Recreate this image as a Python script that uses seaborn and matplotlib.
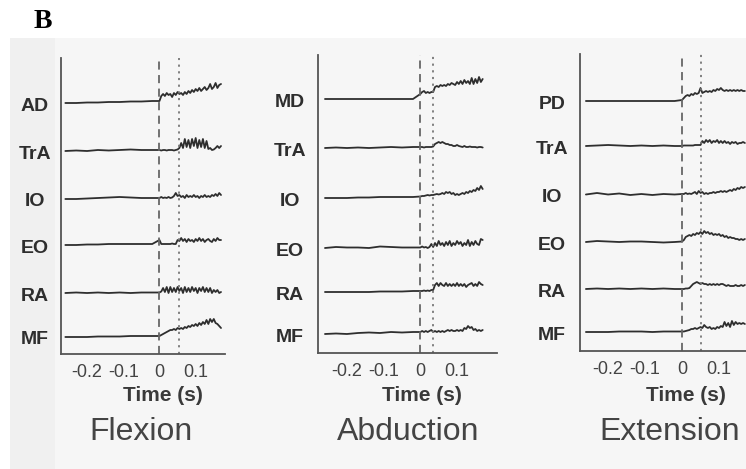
import numpy as np
import pandas as pd
import seaborn as sns
import matplotlib.pyplot as plt
from matplotlib.patches import Rectangle

# time axis (s): sparse before movement onset, dense after
t_pre = [-0.26, -0.23, -0.20, -0.17, -0.14, -0.11, -0.08, -0.05, -0.02]
t_post = [0.0, 0.005, 0.01, 0.015, 0.02, 0.025, 0.03, 0.035, 0.04, 0.045,
          0.05, 0.055, 0.06, 0.065, 0.07, 0.075, 0.08, 0.085, 0.09, 0.095,
          0.1, 0.105, 0.11, 0.115, 0.12, 0.125, 0.13, 0.135, 0.14, 0.145,
          0.15, 0.155, 0.16, 0.165, 0.17]
time_s = t_pre + t_post

# EMG traces (arbitrary units)
# Flexion
flex_muscles = ["AD", "TrA", "IO", "EO", "RA", "MF"]
flex_ad = [0, 0, 0.5, 0.5, 1, 1, 1.5, 1.5, 2,
           2, 7, 9, 7, 10, 8, 9, 6, 10, 8, 11, 9, 10, 8, 11, 9, 12, 10, 13, 11,
           14, 12, 15, 12, 14, 16, 13, 15, 19, 14, 16, 20, 15, 18, 19]
flex_tra = [0, 0.5, 0, 1, 0.5, 1, 1.5, 1, 1,
            1, 0.5, 1, 1, 0.5, 1, 1, 1, 0.5, 1, 1.5, 3, 8, 3, 12, 4, 11, 3, 12, 5,
            13, 3, 11, 4, 12, 3, 10, 2, 3, 1, 1.5, 3, 5, 3, 5]
flex_io = [0, 0, 0.5, 1, 1.5, 2, 1.5, 1, 1,
           1, 2, 1, 1.5, 1, 2, 1, 1.5, 3, 6, 3, 4, 2, 3, 1, 4, 2, 3, 2, 4,
           2, 3, 1, 3, 2, 4, 2, 3, 2, 4, 3, 5, 3, 6, 4]
flex_eo = [0, 0, 0.5, 0.5, 1, 1, 1, 1, 1,
           5, 1, 1, 1, 1, 1, 1, 1.5, 1, 1, 5, 4, 7, 4, 6, 3, 6, 4, 5, 3,
           6, 4, 7, 4, 6, 3, 5, 6, 4, 3, 6, 4, 7, 5, 5]
flex_ra = [0, 0.5, 0, 0.5, 0, 0.5, 0, 0.5, 0.5,
           0.5, 1.5, 5, 1, 6, 0, 6, 1, 5, 1, 6, 2, 5, 0, 6, 1, 5, 1, 6, 2,
           5, 0, 5, 2, 6, 1, 5, 1, 5, 0, 3, 1, 3, 0, 1]
flex_mf = [0, 0, 0, 0.5, 0.5, 0.5, 1, 1, 1,
           1, 2, 3, 4, 5, 6, 7, 7, 8, 7, 9, 8, 9, 8, 10, 9, 11, 10, 12, 11,
           13, 11, 14, 12, 15, 13, 17, 13, 18, 15, 18, 14, 13, 11, 9]

# Abduction
abd_muscles = ["MD", "TrA", "IO", "EO", "RA", "MF"]
abd_md = [0, 0, 0, 0, 0, 0, 0, 0, 0,
          5, 7, 8, 6, 7, 6, 7, 7, 12, 13, 12, 14, 13, 14, 13, 15, 14, 16, 15, 14,
          17, 15, 18, 15, 19, 16, 18, 15, 21, 15, 20, 16, 22, 17, 20]
abd_tra = [0, 0.5, 0, 0.5, 0, 0.5, 1, 0.5, 1,
           1, 1, 0.5, 1, 1, 1, 1, 1.5, 4, 5, 6, 5, 6, 5, 4, 4, 3, 3, 2, 2,
           3, 2, 1.5, 1, 2, 1, 1, 1.5, 1, 1, 1, 0.5, 1, 1, 0.5]
abd_io = [0, 0, 0, 0.5, 0.5, 1, 1, 1, 1,
          1.5, 2, 2, 2.5, 3, 2.5, 3, 3, 3.5, 4, 3.5, 4, 5, 4, 6, 5, 6, 4, 5, 3,
          4, 3, 4, 5, 4, 6, 5, 7, 6, 8, 7, 10, 8, 12, 9]
abd_eo = [0, 1, 0.5, 0.5, 0, 1.5, 1, 0.5, 0.5,
          0.5, 1.5, 0.5, 1, 0, 1, 4, 1, 5, 2, 7, 3, 5, 2, 6, 3, 7, 2, 5, 3,
          7, 4, 6, 2, 5, 3, 8, 2, 6, 3, 7, 4, 3, 9, 8]
abd_ra = [0, 0, 0, 0, 0, 0.5, 0.5, 0.5, 1,
          1, 1, 1.5, 1, 1.5, 1, 2, 2, 7, 9, 6, 9, 7, 6, 9, 6, 8, 6, 8, 6,
          9, 6, 8, 6, 8, 5, 7, 8, 9, 6, 8, 6, 10, 8, 7]
abd_mf = [0, 0.5, 0, 1, 1.5, 1, 2, 1.5, 2,
          2, 3, 2, 3, 2, 3, 4, 2, 3, 2, 3, 2, 3, 2, 3, 4, 3, 4, 3, 3,
          4, 3, 4, 3, 6, 5, 8, 6, 7, 4, 5, 3, 4, 3, 4]

# Extension
ext_muscles = ["PD", "TrA", "IO", "EO", "RA", "MF"]
ext_pd = [0, 0, 0, 0, 0, 0, 0, 0, 0,
          1, 3, 5, 6, 5, 7, 6, 8, 7, 8, 13, 8, 9, 10, 9, 10, 9, 11, 10, 12,
          11, 13, 11, 10, 11, 10, 11, 10, 11, 10, 11, 10, 11, 10, 10]
ext_tra = [0, 0.5, 1, 0.5, 0, 0.5, 0, 0.5, 0,
           0, 0.5, 0.5, 0.5, 0.5, 0.5, 0.5, 1, 1, 1, 1, 5, 3, 6, 4, 6, 3, 5, 4, 6,
           3, 5, 3, 5, 3, 4, 2, 4, 3, 4, 2, 3, 3, 4, 3]
ext_io = [0.5, 2, 0.5, 1.5, 0, 1, 0, 1, 0.5,
          1, 1, 2, 1, 1.5, 1, 2, 3, 1, 4, 2, 3, 1, 2, 1, 2, 2, 3, 2, 3,
          3, 4, 3, 4, 3, 4, 5, 4, 6, 5, 7, 6, 8, 7, 8]
ext_eo = [0, 1, 0.5, 0, 0.5, 0.5, 0, -0.5, 0,
          0.5, 2, 5, 6, 7, 6, 8, 7, 9, 8, 10, 8, 11, 9, 10, 8, 9, 7, 8, 7,
          8, 6, 7, 5, 6, 4, 5, 4, 4, 3, 3, 2, 3, 2, 3]
ext_ra = [0, 0.5, 0, 0.5, 0, 0.5, 0, 0.5, 0,
          0, 0, 0.5, 0.5, 1, 3, 5, 6, 7, 6, 5, 6, 5, 5, 4, 5, 4, 5, 4, 5,
          4, 5, 5, 4, 3, 4, 3, 3, 3, 4, 3, 3, 4, 3, 4]
ext_mf = [0, 0, 0, 0.5, 0.5, 0.5, 0, 0.5, 0.5,
          0.5, 0.5, 1, 1.5, 2, 3, 3, 4, 3, 4, 5, 4, 7, 5, 4, 5, 3, 4, 3, 5,
          4, 6, 5, 10, 6, 9, 5, 11, 7, 10, 8, 9, 8, 9, 8]

panels = [
    ("Flexion", flex_muscles, [flex_ad, flex_tra, flex_io, flex_eo, flex_ra, flex_mf], 0.055),
    ("Abduction", abd_muscles, [abd_md, abd_tra, abd_io, abd_eo, abd_ra, abd_mf], 0.035),
    ("Extension", ext_muscles, [ext_pd, ext_tra, ext_io, ext_eo, ext_ra, ext_mf], 0.05),
]

# layout in pixels of the 746x469 canvas
W, H = 746, 469
layout = [
    # left, top, right, bottom, xlim, baselines (px above bottom), label centre x
    (61, 58, 225, 354, (-0.272, 0.181), [251, 203, 155, 109, 61, 17], 35),
    (318, 55, 497, 353, (-0.279, 0.209), [254, 205, 155, 105, 61, 19], 290),
    (580, 54, 780, 351, (-0.276, 0.265), [250, 205, 156, 109, 62, 19], 552),
]
time_label_x = [163, 422, 686]
title_x = [141, 408, 670]

sns.set_theme(style="white")
plt.rcParams["font.family"] = ["Liberation Sans", "DejaVu Sans"]
plt.rcParams["axes.unicode_minus"] = False

ink = "#2e2e2e"
fig = plt.figure(figsize=(W / 100, H / 100), dpi=100)
fig.patch.set_facecolor("white")
# scanned paper tone
fig.add_artist(Rectangle((10 / W, 0), 1, 1 - 38 / H, transform=fig.transFigure,
                         facecolor="#f6f6f6", edgecolor="none", zorder=-10))
fig.add_artist(Rectangle((10 / W, 0), 45 / W, 1 - 38 / H, transform=fig.transFigure,
                         facecolor="#f0f0f0", edgecolor="none", zorder=-9))

for i, ((title, muscles, traces, dotted), lay) in enumerate(zip(panels, layout)):
    left, top, right, bottom, xlim, base, lab_x = lay
    ax = fig.add_axes([left / W, (H - bottom) / H, (right - left) / W, (bottom - top) / H])
    ax.set_facecolor("none")

    rows = []
    for name, vals, b in zip(muscles, traces, base):
        for tt, v in zip(time_s, vals):
            rows.append({"t": tt, "y": b + v, "muscle": name})
    df = pd.DataFrame(rows)
    sns.lineplot(data=df, x="t", y="y", units="muscle", estimator=None,
                 color=ink, linewidth=1.3, ax=ax, legend=False)

    ax.axvline(0, color="#666666", lw=1.3, dashes=(4.5, 3))
    ax.axvline(dotted, color="#777777", lw=1.3, dashes=(1.2, 2.5))

    ax.set_xlim(*xlim)
    ax.set_ylim(0, bottom - top)
    ax.set_xticks([-0.2, -0.1, 0, 0.1])
    ax.set_xticklabels(["-0.2", "-0.1", "0", "0.1"], fontsize=13, color="#444444")
    ax.tick_params(axis="x", direction="in", length=4, width=1, color="#555555", pad=7)
    ax.set_yticks([])
    ax.set_xlabel("")
    ax.set_ylabel("")
    sns.despine(ax=ax)
    for s in ["left", "bottom"]:
        ax.spines[s].set_color("#555555")
        ax.spines[s].set_linewidth(1.3)

    # muscle names beside each trace
    for name, b in zip(muscles, base):
        fig.text(lab_x / W, 1 - (bottom - b + 3) / H, name, ha="center", va="center",
                 fontsize=14, fontweight="bold", color=ink)

    fig.text(time_label_x[i] / W, 1 - 395 / H, "Time (s)", ha="center", va="center",
             fontsize=15, fontweight="bold", color="#3a3a3a")
    fig.text(title_x[i] / W, 1 - 432 / H, title, ha="center", va="center",
             fontsize=23, color="#444444")

fig.text(43 / W, 1 - 22 / H, "B", ha="center", va="center", fontsize=20,
         fontweight="bold", family=["Liberation Serif", "DejaVu Serif"], color="black")

plt.savefig("out.png", dpi=100)
plt.close()
